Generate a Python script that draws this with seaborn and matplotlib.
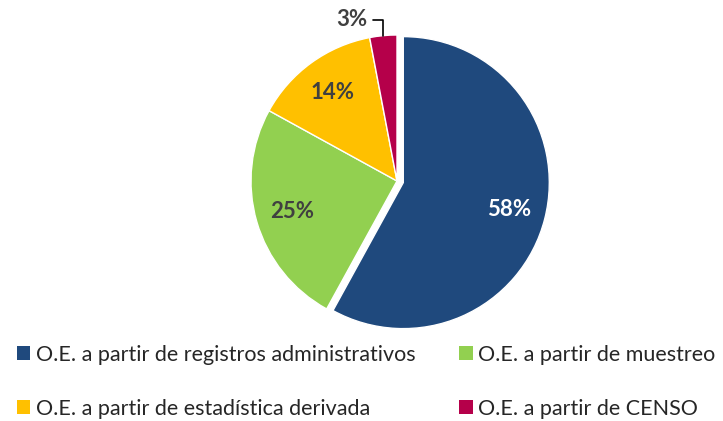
import numpy as np
import matplotlib
matplotlib.use("Agg")
import matplotlib.pyplot as plt
import seaborn as sns
from matplotlib.patches import Patch

categories = ["O.E. a partir de registros administrativos",
              "O.E. a partir de muestreo",
              "O.E. a partir de estadística derivada",
              "O.E. a partir de CENSO"]
values = [58, 25, 14, 3]
colors = ["#1F497D", "#92D050", "#FFC000", "#B5004A"]

sns.set_theme(style="white")
plt.rcParams['font.family'] = ['Lato', 'DejaVu Sans']

W, H = 723, 421
fig = plt.figure(figsize=(W / 100, H / 100), dpi=100)
ax = fig.add_axes([0, 0, 1, 1])
cx, cy, R = 397, 240, 146

wedges, _ = ax.pie(values, colors=colors, startangle=90, counterclock=False,
                   center=(cx, cy), radius=R, explode=[6.5, 0, 0, 0],
                   wedgeprops=dict(edgecolor="white", linewidth=1.0))
ax.set_xlim(0, W)
ax.set_ylim(0, H)
ax.set_aspect("equal")
ax.axis("off")

txtcol = "#404040"
for i, (w, v) in enumerate(zip(wedges, values)):
    ang = np.deg2rad((w.theta1 + w.theta2) / 2)
    wx, wy = w.center
    if v >= 5:
        r = 0.75 * R
        col = "white" if i == 0 else txtcol
        ax.text(wx + r * np.cos(ang), wy + r * np.sin(ang), f"{v}%",
                ha="center", va="center", fontsize=16, fontweight="bold",
                color=col)
    else:
        ex, ey = wx + R * np.cos(ang), wy + R * np.sin(ang)
        ax.annotate(f"{v}%", xy=(ex, ey), xytext=(ex - 16, ey + 16),
                    ha="right", va="center", fontsize=16, fontweight="bold",
                    color=txtcol,
                    arrowprops=dict(arrowstyle="-", color="black", lw=1.2,
                                    connectionstyle="angle,angleA=0,angleB=90,rad=0",
                                    shrinkA=2, shrinkB=0))

handles = [Patch(facecolor=c, edgecolor="none") for c in colors]
order = [0, 2, 1, 3]
fig.legend([handles[i] for i in order], [categories[i] for i in order],
           ncol=2, loc="lower left", bbox_to_anchor=(17 / W, 2 / H),
           frameon=False, fontsize=15.5, handlelength=0.62, handleheight=0.62,
           handletextpad=0.25, columnspacing=2.05, labelspacing=1.6,
           borderaxespad=0, borderpad=0)

fig.savefig("out.png", dpi=100)
